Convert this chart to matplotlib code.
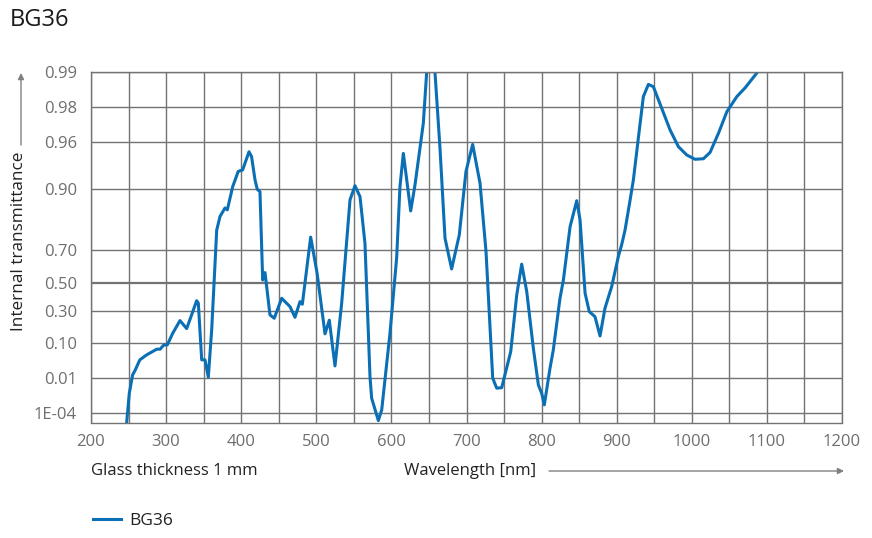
import numpy as np
import matplotlib
matplotlib.use("Agg")
from matplotlib import pyplot as plt

plt.rcParams['font.family'] = ['Open Sans', 'DejaVu Sans']

# curve (wavelength nm, internal transmittance)
wavelength = [245, 247.5, 251, 255.4, 258.6, 265, 274, 287.5, 292, 297, 301.6, 308.8,
              318.5, 327.4, 334, 340.7, 342.9, 347.4, 351.8, 356.2, 360.7, 367.4, 371.8,
              378.4, 381.5, 388.7, 396, 401.9, 410.4, 413.8, 418.4, 421.4, 425, 428.6,
              431.7, 438.3, 444, 453.9, 465, 471.6, 478.3, 481.4, 492.5, 501, 511.6,
              517.3, 524.9, 533.8, 544.9, 551.5, 558.2, 564.8, 571.5, 573.7, 582.6,
              587.1, 598.1, 607, 611.4, 615.9, 625.7, 631.4, 642.5, 647, 652, 658,
              664.7, 671.4, 680.2, 690.4, 699.3, 708.2, 718, 726, 734.9, 740.2, 746.9,
              758.9, 766.9, 773.5, 780.2, 789, 795.7, 800.1, 803.6, 811.2, 815.6, 824.5,
              829, 837.9, 846.8, 851.2, 857.9, 863.5, 871.1, 877.8, 884.4, 893.3, 902.2,
              906.6, 911.1, 917.7, 922.2, 928.8, 935.5, 942.2, 948.8, 960, 971.1, 982.2,
              993.3, 1004.4, 1015.5, 1024.4, 1035.5, 1046.7, 1060, 1071, 1086.6, 1100]
transmittance = [1e-6, 1.3e-5, 0.0019, 0.0131, 0.0188, 0.0404, 0.0547, 0.075, 0.075, 0.0927,
                 0.0927, 0.152, 0.232, 0.180, 0.272, 0.375, 0.357, 0.0404, 0.0404, 0.0107,
                 0.172, 0.788, 0.834, 0.858, 0.853, 0.905, 0.929, 0.931, 0.9516, 0.9467,
                 0.9165, 0.900, 0.8953, 0.523, 0.572, 0.272, 0.248, 0.393, 0.331, 0.255,
                 0.368, 0.349, 0.760, 0.57, 0.149, 0.235, 0.0267, 0.357, 0.878, 0.9066,
                 0.885, 0.733, 0.0112, 0.001, 2e-5, 1.6e-4, 0.152, 0.66, 0.905, 0.950,
                 0.850, 0.908, 0.9723, 0.99, 0.997, 0.99, 0.9548, 0.755, 0.595, 0.769,
                 0.929, 0.958, 0.911, 0.693, 0.0098, 0.0035, 0.0037, 0.066, 0.418, 0.624,
                 0.442, 0.0787, 0.005, 0.0019, 3.7e-4, 0.0225, 0.0724, 0.393, 0.523, 0.80,
                 0.876, 0.823, 0.43, 0.295, 0.259, 0.137, 0.32, 0.477, 0.667, 0.726, 0.788,
                 0.876, 0.9165, 0.9628, 0.9837, 0.9872, 0.9866, 0.9794, 0.9684, 0.9561,
                 0.9484, 0.9439, 0.9445, 0.951, 0.9663, 0.978, 0.9837, 0.9863, 0.9898, 0.993]

y_ticks = [1e-4, 0.01, 0.10, 0.30, 0.50, 0.70, 0.90, 0.96, 0.98, 0.99]
y_labels = ['1E-04', '0.01', '0.10', '0.30', '0.50', '0.70', '0.90', '0.96', '0.98', '0.99']
x_ticks = list(range(200, 1201, 100))

blue = '#0a6fb5'
grid_c = '#737373'
label_c = '#6e6e6e'
text_c = '#222222'


# datasheet scale: -log(-log T)
def fwd(t):
    t = np.clip(np.asarray(t, dtype=float), 1e-300, 1 - 1e-15)
    return -np.log10(-np.log10(t))


def inv(f):
    return 10 ** (-10 ** (-np.asarray(f, dtype=float)))


W, H = 872, 538
fig = plt.figure(figsize=(W / 100, H / 100), dpi=100)
ax = fig.add_axes([91 / W, 1 - 422.5 / H, 751 / W, 350.5 / H])

ax.set_yscale('function', functions=(fwd, inv))
ax.set_xlim(200, 1200)
ax.set_ylim(1.3e-5, 0.99)

ax.set_yticks(y_ticks)
ax.set_yticklabels(y_labels)
ax.yaxis.set_minor_locator(matplotlib.ticker.NullLocator())
ax.set_xticks(x_ticks)
ax.set_xticks(range(250, 1200, 100), minor=True)

ax.grid(True, which='both', color=grid_c, linewidth=1.0)
for gl, v in zip(ax.get_ygridlines(), y_ticks):
    if v == 0.50:
        gl.set_linewidth(1.6)
ax.tick_params(which='both', length=0, colors=label_c, labelsize=12)
ax.tick_params(axis='x', pad=8)
ax.tick_params(axis='y', pad=10)
for s in ax.spines.values():
    s.set_color(grid_c)
    s.set_linewidth(1.0)
ax.set_axisbelow(True)

ax.plot(wavelength, transmittance, color=blue, linewidth=2.2, label='BG36',
        solid_joinstyle='round')

fig.text(10 / W, 1 - 20 / H, 'BG36', fontsize=17, color='#1a1a1a', va='center')

fig.text(91 / W, 1 - 471 / H, 'Glass thickness 1 mm', fontsize=12, color=text_c, va='center')
fig.text(404 / W, 1 - 471 / H, 'Wavelength [nm]', fontsize=12, color=text_c, va='center')
fig.add_artist(matplotlib.patches.FancyArrowPatch(
    (549 / W, 1 - 471 / H), (844 / W, 1 - 471 / H), transform=fig.transFigure,
    arrowstyle='-|>', mutation_scale=9, color='#808080', linewidth=1.0,
    shrinkA=0, shrinkB=0))

fig.text(19 / W, 1 - 241 / H, 'Internal transmittance', fontsize=12.3, color=text_c,
         rotation=90, ha='center', va='center')
fig.add_artist(matplotlib.patches.FancyArrowPatch(
    (21 / W, 1 - 145 / H), (21 / W, 1 - 73 / H), transform=fig.transFigure,
    arrowstyle='-|>', mutation_scale=9, color='#808080', linewidth=1.0,
    shrinkA=0, shrinkB=0))

fig.legend(loc='center left', bbox_to_anchor=(93 / W, 1 - 521 / H), frameon=False,
           fontsize=12.5, handlelength=1.6, handletextpad=0.5, labelcolor=text_c,
           borderpad=0, borderaxespad=0)

fig.savefig('out.png', dpi=100)
